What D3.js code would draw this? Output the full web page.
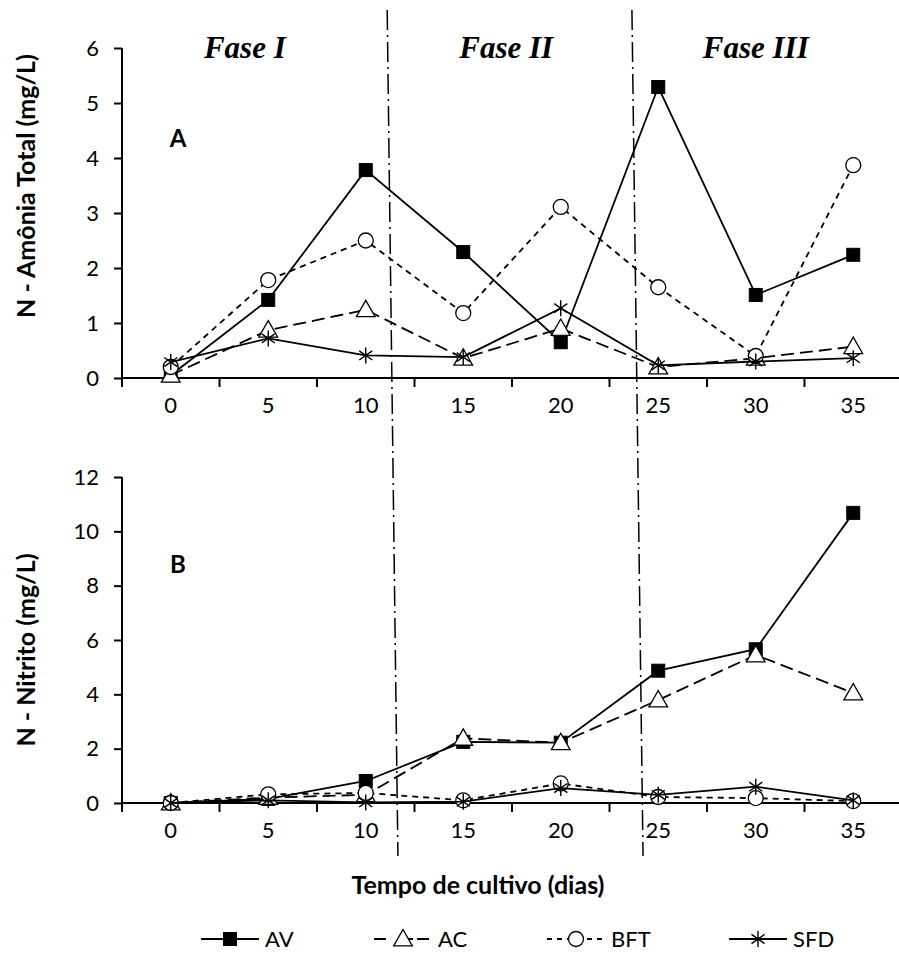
<!DOCTYPE html>
<html><head><meta charset="utf-8">
<script src="https://cdn.jsdelivr.net/npm/d3@7"></script>
<style>body{margin:0;background:#fff}</style>
</head><body>
<script>
const days = [0, 5, 10, 15, 20, 25, 30, 35];
const xTickLabels = ["0","5","10","15","20","25","30","35"];
const seriesNames = ["AV", "AC", "BFT", "SFD"];
// Panel A: N - Amônia Total (mg/L)
const amoniaAV  = [0.05, 1.42, 3.78, 2.29, 0.65, 5.29, 1.51, 2.24];
const amoniaAC  = [0.05, 0.87, 1.24, 0.36, 0.90, 0.20, 0.36, 0.57];
const amoniaBFT = [0.20, 1.78, 2.50, 1.18, 3.11, 1.65, 0.40, 3.87];
const amoniaSFD = [0.29, 0.72, 0.41, 0.38, 1.27, 0.23, 0.30, 0.36];
const amoniaTicks = [0,1,2,3,4,5,6];
// Panel B: N - Nitrito (mg/L)
const nitritoAV  = [0.00, 0.15, 0.81, 2.25, 2.22, 4.87, 5.66, 10.68];
const nitritoAC  = [0.00, 0.20, 0.30, 2.38, 2.22, 3.79, 5.45, 4.05];
const nitritoBFT = [0.00, 0.32, 0.37, 0.10, 0.72, 0.22, 0.18, 0.07];
const nitritoSFD = [0.00, 0.10, 0.02, 0.05, 0.55, 0.30, 0.60, 0.10];
const nitritoTicks = [0,2,4,6,8,10,12];
const phaseLabels = ["Fase I", "Fase II", "Fase III"];
const phaseLabelDays = [3.8, 17.2, 30.0];
const phaseBoundaries = [[11.1, 11.65], [23.65, 24.22]]; // [top, bottom] in days

const W = 899, H = 953;
const FONT = "Lato, Carlito, 'Open Sans', sans-serif";
const svg = d3.select("body").append("svg").attr("width", W).attr("height", H)
  .style("font-family", FONT);

const x = d3.scaleLinear().domain([-2.5, 37.5]).range([122, 902]);
const tickPos = d3.range(-2.5, 40, 5);

const styles = {
  AV:  {dash: null,  marker: "square"},
  AC:  {dash: "13,6", marker: "triangle"},
  BFT: {dash: "6,5",  marker: "circle"},
  SFD: {dash: null,  marker: "star"}
};

function drawMarker(g, type, cx, cy, s) {
  if (type === "square") {
    g.append("rect").attr("x", cx - s/2).attr("y", cy - s/2).attr("width", s).attr("height", s)
      .attr("fill", "#000").attr("stroke", "#000").attr("stroke-width", 1);
  } else if (type === "triangle") {
    const h = s * 0.9;
    g.append("path").attr("d", `M${cx},${cy - h*0.62}L${cx + s*0.55},${cy + h*0.45}L${cx - s*0.55},${cy + h*0.45}Z`)
      .attr("fill", "#fff").attr("stroke", "#000").attr("stroke-width", 1.3);
  } else if (type === "circle") {
    g.append("circle").attr("cx", cx).attr("cy", cy).attr("r", s/2)
      .attr("fill", "#fff").attr("stroke", "#000").attr("stroke-width", 1.3);
  } else if (type === "star") {
    const r = s/2;
    const p = [`M${cx},${cy - r}L${cx},${cy + r}`];
    [35, 145].forEach(a => {
      const dx = r * Math.cos(a * Math.PI/180), dy = r * Math.sin(a * Math.PI/180);
      p.push(`M${cx - dx},${cy - dy}L${cx + dx},${cy + dy}`);
    });
    g.append("path").attr("d", p.join("")).attr("stroke", "#000").attr("stroke-width", 1.4).attr("fill", "none");
  }
}

function panel(opts) {
  const y = d3.scaleLinear().domain(opts.domain).range(opts.range);
  const g = svg.append("g");
  // y axis
  const yAxis = d3.axisLeft(y).tickValues(opts.ticks).tickFormat(d3.format("d"))
    .tickSize(8).tickPadding(15).tickSizeOuter(0);
  const ya = g.append("g").attr("transform", `translate(${x(-2.5)},0)`).call(yAxis);
  ya.attr("font-family", FONT).attr("font-size", 22);
  ya.select(".domain").attr("stroke-width", 2).attr("d", `M0,${opts.range[1]}V${opts.range[0] + 9}`);
  ya.selectAll(".tick line").attr("stroke-width", 2);
  ya.selectAll(".tick text").attr("fill", "#000");
  // x axis
  const xa = g.append("g").attr("transform", `translate(0,${opts.range[0]})`);
  xa.append("line").attr("x1", x(-2.5)).attr("x2", W).attr("stroke", "#000").attr("stroke-width", 2);
  xa.selectAll("line.t").data(tickPos).enter().append("line").attr("class", "t")
    .attr("x1", d => x(d)).attr("x2", d => x(d)).attr("y1", 0).attr("y2", 9)
    .attr("stroke", "#000").attr("stroke-width", 2);
  xa.selectAll("text").data(days).enter().append("text")
    .attr("x", d => x(d)).attr("y", opts.labelDy).attr("text-anchor", "middle")
    .style("font-size", "22px").text((d, i) => xTickLabels[i]);
  // y title
  g.append("text").attr("transform", `translate(35,${opts.titleY}) rotate(-90)`)
    .attr("text-anchor", "middle").style("font-size", "25px").style("font-weight", "bold")
    .text(opts.title);
  // panel letter
  g.append("text").attr("x", 178).attr("y", opts.letterY).attr("text-anchor", "middle")
    .style("font-size", "24px").style("font-weight", "bold").text(opts.letter);
  // series
  opts.series.forEach((vals, si) => {
    const name = seriesNames[si];
    const st = styles[name];
    const line = d3.line().x((d, i) => x(days[i])).y(d => y(d));
    g.append("path").datum(vals).attr("d", line).attr("fill", "none")
      .attr("stroke", "#000").attr("stroke-width", 1.8)
      .attr("stroke-dasharray", st.dash);
    const mg = g.append("g");
    vals.forEach((v, i) => {
      const sz = {square: 13, triangle: 17, circle: 15, star: 16}[st.marker];
      drawMarker(mg, st.marker, x(days[i]), y(v), sz);
    });
  });
  return y;
}

panel({domain: [0, 6], range: [378, 48], ticks: amoniaTicks, labelDy: 35,
  title: "N - Amônia Total (mg/L)", titleY: 186, letter: "A", letterY: 147,
  series: [amoniaAV, amoniaAC, amoniaBFT, amoniaSFD]});
panel({domain: [0, 12], range: [803, 477], ticks: nitritoTicks, labelDy: 35,
  title: "N - Nitrito (mg/L)", titleY: 650, letter: "B", letterY: 573,
  series: [nitritoAV, nitritoAC, nitritoBFT, nitritoSFD]});

// phase boundaries
phaseBoundaries.forEach(b => {
  svg.append("line").attr("x1", x(b[0])).attr("y1", 10).attr("x2", x(b[1])).attr("y2", 856)
    .attr("stroke", "#000").attr("stroke-width", 1.5).attr("stroke-dasharray", "20,5,2,5");
});
// phase labels
svg.selectAll("text.phase").data(phaseLabels).enter().append("text").attr("class", "phase")
  .attr("x", (d, i) => x(phaseLabelDays[i])).attr("y", 58).attr("text-anchor", "middle")
  .style("font-family", "'Liberation Serif', 'Times New Roman', serif")
  .style("font-weight", "bold").style("font-style", "italic").style("font-size", "31px")
  .text(d => d);

// x title
svg.append("text").attr("x", 478).attr("y", 894).attr("text-anchor", "middle")
  .style("font-size", "25px").style("font-weight", "bold").text("Tempo de cultivo (dias)");

// legend
const legendX = [201, 374, 547, 729];
const legendDash = {AV: null, AC: "12,18,9,4", BFT: "5,5", SFD: null};
seriesNames.forEach((name, i) => {
  const st = styles[name];
  const lg = svg.append("g");
  const x0 = legendX[i], yy = 939;
  lg.append("line").attr("x1", x0).attr("x2", x0 + 58).attr("y1", yy).attr("y2", yy)
    .attr("stroke", "#000").attr("stroke-width", 1.8).attr("stroke-dasharray", legendDash[name]);
  const sz = {square: 13, triangle: 17, circle: 15, star: 16}[st.marker];
  drawMarker(lg, st.marker, x0 + 29, yy, sz);
  lg.append("text").attr("x", x0 + 64).attr("y", yy + 8).style("font-size", "22px").text(name);
});
</script>
</body></html>
